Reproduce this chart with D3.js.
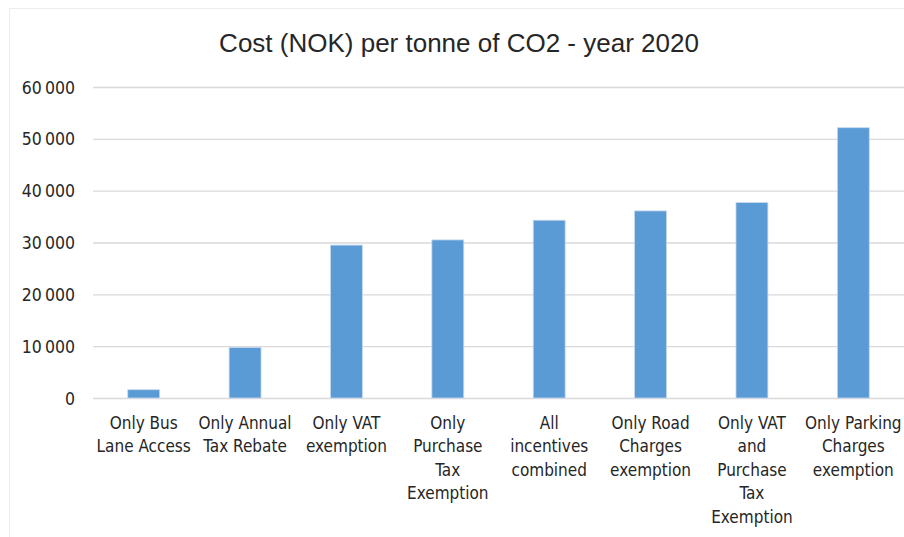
<!DOCTYPE html>
<html>
<head>
<meta charset="utf-8">
<script src="https://cdn.jsdelivr.net/npm/d3@7"></script>
<style>
  html, body { margin: 0; padding: 0; background: #fff; }
  svg { display: block; }
  text { font-family: "Liberation Sans Narrow", "Arial Narrow", "DejaVu Sans Condensed", sans-serif; fill: #262626; }
</style>
</head>
<body>
<svg id="chart" width="904" height="537"></svg>
<script>
const title = "Cost (NOK) per tonne of CO2 - year 2020";
const categories = [
  "Only Bus\nLane Access",
  "Only Annual\nTax Rebate",
  "Only VAT\nexemption",
  "Only\nPurchase\nTax\nExemption",
  "All\nincentives\ncombined",
  "Only Road\nCharges\nexemption",
  "Only VAT\nand\nPurchase\nTax\nExemption",
  "Only Parking\nCharges\nexemption"
];
const values = [1600, 9750, 29500, 30500, 34300, 36100, 37700, 52150];
const yTicks = [0, 10000, 20000, 30000, 40000, 50000, 60000];

const svg = d3.select("#chart");
const margin = { left: 93, right: 0, top: 87, bottom: 139 };
const W = 904, H = 537;

const x = d3.scaleBand()
  .domain(categories)
  .range([margin.left, W - margin.right])
  .paddingInner(0.685)
  .paddingOuter(0.3425);

const y = d3.scaleLinear()
  .domain([0, 60000])
  .range([H - margin.bottom, margin.top]);

const fmt = d3.formatLocale({ decimal: ",", thousands: "\u2009", grouping: [3], currency: ["", ""] }).format(",d");

// chart area border (faint)
svg.append("line").attr("x1", 9.5).attr("x2", 9.5).attr("y1", 8).attr("y2", H)
  .attr("stroke", "#ececec").attr("stroke-width", 1);
svg.append("line").attr("x1", 9.5).attr("x2", W).attr("y1", 8.5).attr("y2", 8.5)
  .attr("stroke", "#ececec").attr("stroke-width", 1);

// title
svg.append("text")
  .attr("x", 459).attr("y", 52)
  .attr("text-anchor", "middle")
  .style("font-size", "26px")
  .style("font-family", "'Liberation Sans', Arial, sans-serif")
  .text(title);

// gridlines + y axis
const yAxis = d3.axisLeft(y).tickValues(yTicks).tickSize(-(W - margin.right - margin.left)).tickPadding(18).tickFormat(fmt);
const gy = svg.append("g").attr("transform", `translate(${margin.left},0)`).call(yAxis);
gy.select(".domain").remove();
gy.selectAll(".tick line").attr("stroke", "#d9d9d9").attr("stroke-width", 1.3);
gy.selectAll(".tick text").style("font-size", "17.5px").attr("fill", "#262626").attr("dy", "0.35em");

// bars
svg.append("g").selectAll("rect").data(values).join("rect")
  .attr("x", (d, i) => x(categories[i]))
  .attr("y", d => y(d))
  .attr("width", x.bandwidth())
  .attr("height", d => y(0) - y(d))
  .attr("fill", "#5b9bd5")
  .attr("stroke", "#c9daf0")
  .attr("stroke-width", 0.8);

// x axis labels
const xAxis = d3.axisBottom(x).tickSize(0).tickPadding(0).tickFormat(() => "");
const gx = svg.append("g").attr("transform", `translate(0,${y(0)})`).call(xAxis);
gx.select(".domain").remove();
gx.selectAll(".tick").each(function(d) {
  const t = d3.select(this).select("text").text(null)
    .attr("y", 0).attr("dy", null)
    .style("font-size", "17px").attr("fill", "#262626");
  d.split("\n").forEach((line, i) => {
    t.append("tspan").attr("x", 0).attr("y", 31 + i * 23.4).text(line);
  });
});
</script>
</body>
</html>
